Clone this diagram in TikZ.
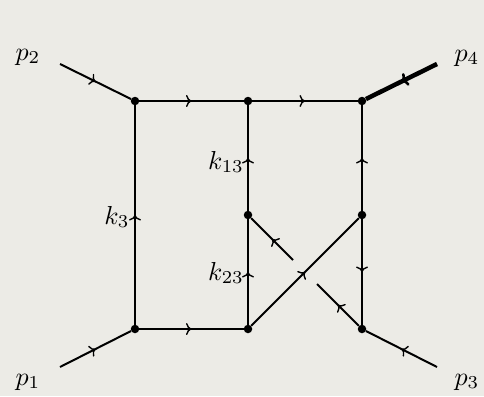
\documentclass[tikz,border=0pt]{standalone}
\usetikzlibrary{arrows.meta,decorations.markings}
\definecolor{bgc}{RGB}{236,235,230}
\begin{document}
\begin{tikzpicture}[x=1pt,y=-1pt,
  line/.style={line width=2pt},
  thickline/.style={line width=4.5pt},
  midarrow/.style={postaction={decorate},decoration={markings,mark=at position 0.5 with {\arrow{To[length=5.5pt,width=12pt,line width=1.4pt]}}}},
  thickarrow/.style={postaction={decorate},decoration={markings,mark=at position 0.5 with {\arrow{To[length=6pt,width=14pt,line width=2.6pt]}}}},
  vtx/.style={circle,fill=black,inner sep=0pt,minimum size=8.5pt},
  lbl/.style={scale=2.6,inner sep=0pt}]
\useasboundingbox (0,0) rectangle (484,396);
\fill[bgc] (0,0) rectangle (484,396);
% vertices
\node[vtx] (A) at (135,101) {};
\node[vtx] (B) at (248,101) {};
\node[vtx] (C) at (362,101) {};
\node[vtx] (D) at (135,329) {};
\node[vtx] (E) at (248,329) {};
\node[vtx] (F) at (362,329) {};
\node[vtx] (G) at (248,215) {};
\node[vtx] (H) at (362,215) {};
% external ends
\coordinate (P2) at (60,64);
\coordinate (P4) at (437,64);
\coordinate (P1) at (60,367);
\coordinate (P3) at (437,367);
\coordinate (g1) at (293,260);
\coordinate (g2) at (317,284);
% edges
\draw[line,midarrow] (P2) -- (A);
\draw[line,midarrow] (P1) -- (D);
\draw[line,midarrow] (P3) -- (F);
\draw[thickline,thickarrow] (P4) -- (C);
\draw[line,midarrow] (A) -- (B);
\draw[line,midarrow] (B) -- (C);
\draw[line,midarrow] (D) -- (E);
\draw[line,midarrow] (D) -- (A);
\draw[line,midarrow] (G) -- (B);
\draw[line,midarrow] (E) -- (G);
\draw[line,midarrow] (H) -- (C);
\draw[line,midarrow] (H) -- (F);
\draw[line,midarrow] (E) -- (H);
\draw[line,midarrow] (g1) -- (G);
\draw[line,midarrow] (F) -- (g2);
% labels
\node[lbl] (l2) at (28,57) {$p_2$};
\node[lbl] (l4) at (467,58) {$p_4$};
\node[lbl] (l1) at (28,382) {$p_1$};
\node[lbl] (l3) at (467,382) {$p_3$};
\node[lbl] (k3) at (117,217) {$k_3$};
\node[lbl] (k13) at (226,162) {$k_{13}$};
\node[lbl] (k23) at (226,273) {$k_{23}$};
\end{tikzpicture}
\end{document}
